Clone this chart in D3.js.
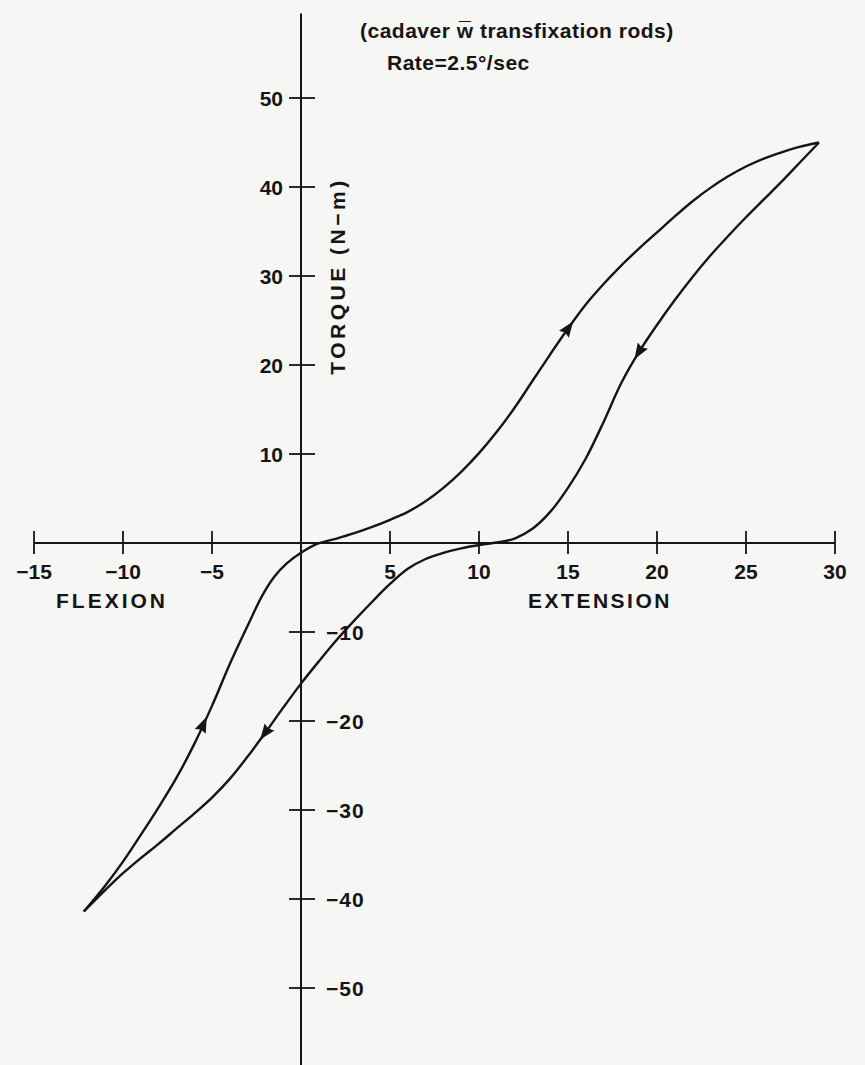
<!DOCTYPE html>
<html><head><meta charset="utf-8">
<script src="https://cdn.jsdelivr.net/npm/d3@7"></script>
<style>body{margin:0;background:#f6f6f4}svg{display:block}</style>
</head><body><svg id="c" width="865" height="1065"></svg>
<script>
// Data (angle in degrees, torque in N-m)
const loadingBranch = [
  [-12.2,-41.4],[-11,-38.5],[-10,-35.8],[-9,-32.8],[-8,-29.7],[-7,-26.4],[-6,-22.6],
  [-5,-18.3],[-4,-13.6],[-3,-9.3],[-2.2,-6.0],[-1.5,-3.8],[-0.8,-2.3],[0,-1.1],[0.9,-0.1],
  [2,0.5],[3,1.1],[4,1.8],[5,2.6],[6,3.5],[7,4.7],[8,6.2],[9,8.0],[10,10.1],[11,12.5],
  [12,15.2],[13,18.2],[14,21.2],[15,24.1],[16,26.8],[17,29.1],[18,31.2],[19,33.1],
  [20,34.9],[21,36.7],[22,38.4],[23,39.9],[24,41.2],[25,42.3],[26,43.2],[27,43.9],
  [28,44.5],[29.1,45.0]
];
const unloadingBranch = [
  [29.1,45.0],[28,42.7],[27,40.6],[26,38.6],[25,36.6],[24,34.5],[23,32.3],[22,29.9],
  [21,27.3],[20,24.5],[19,21.5],[18,18.0],[17,13.6],[16,9.5],[15,6.2],[14,3.5],[13,1.6],
  [12,0.5],[11,0.05],[10.1,-0.2],[9.0,-0.6],[8.0,-1.1],[7.0,-1.8],[6.0,-2.9],[5.0,-4.6],
  [4.0,-6.6],[3.0,-8.7],[2.0,-10.9],[1.0,-13.3],[0,-15.8],[-1.0,-18.5],[-2.0,-21.3],
  [-3.0,-24.0],[-4.0,-26.5],[-5.0,-28.6],[-6.0,-30.4],[-7.0,-32.1],[-8.0,-33.8],
  [-9.0,-35.4],[-10.0,-37.1],[-11.0,-39.0],[-12.2,-41.4]
];
const arrowsLoading = [[-5.5,-20.45],[15.0,24.1]];
const arrowsUnloading = [[19.0,21.5],[-2.0,-21.3]];
const xTickValues = [-15,-10,-5,5,10,15,20,25,30];
const yTickValues = [50,40,30,20,10,-10,-20,-30,-40,-50];
const xDomain = [-15,30];
const yAxisExtent = [59.5,-60];
const titleLines = ["(cadaver w\u0305 transfixation rods)", "Rate=2.5\u00b0/sec"];
const xLabelLeft = "FLEXION", xLabelRight = "EXTENSION", yLabel = "TORQUE (N\u2212m)";

const svg = d3.select("#c");
const FONT = "'Liberation Sans', Arial, sans-serif";
const INK = "#151515";
const x = d3.scaleLinear().domain(xDomain).range([34,835]);
const y = d3.scaleLinear().domain([-50,50]).range([988,98]);
const fmt = v => (v < 0 ? "\u2212" : "") + Math.abs(v);

const g = svg.append("g").attr("fill", INK).style("font-family", FONT).style("font-weight", "bold");

// axes lines
g.append("line").attr("x1", x(xDomain[0])).attr("x2", x(xDomain[1]))
  .attr("y1", y(0)).attr("y2", y(0)).attr("stroke", INK).attr("stroke-width", 2);
g.append("line").attr("x1", x(0)).attr("x2", x(0))
  .attr("y1", y(yAxisExtent[0])).attr("y2", y(yAxisExtent[1])).attr("stroke", INK).attr("stroke-width", 2);

// x ticks
g.selectAll(".xt").data(xTickValues).join("line")
  .attr("x1", d => x(d)).attr("x2", d => x(d))
  .attr("y1", y(0) - 12).attr("y2", y(0) + 11)
  .attr("stroke", INK).attr("stroke-width", 1.8);
g.selectAll(".xl").data(xTickValues).join("text")
  .attr("x", d => x(d)).attr("y", y(0) + 36)
  .attr("text-anchor", "middle").style("font-size", "21px")
  .text(fmt);

// y ticks
g.selectAll(".yt").data(yTickValues).join("line")
  .attr("x1", x(0) - 12).attr("x2", x(0) + 14)
  .attr("y1", d => y(d)).attr("y2", d => y(d))
  .attr("stroke", INK).attr("stroke-width", 1.8);
g.selectAll(".yl").data(yTickValues).join("text")
  .attr("x", d => d > 0 ? x(0) - 18 : x(0) + 25)
  .attr("y", d => y(d)).attr("dy", "0.36em")
  .attr("text-anchor", d => d > 0 ? "end" : "start")
  .style("font-size", "21px")
  .style("letter-spacing", d => d < 0 ? "1px" : "0px")
  .text(fmt);

// axis labels
g.append("text").attr("x", 112).attr("y", y(0) + 65).attr("text-anchor", "middle")
  .style("font-size", "21px").style("letter-spacing", "3px").text(xLabelLeft);
g.append("text").attr("x", 600).attr("y", y(0) + 65).attr("text-anchor", "middle")
  .style("font-size", "21px").style("letter-spacing", "2.5px").text(xLabelRight);
g.append("text").attr("transform", `translate(${x(0) + 44},${y(30)}) rotate(-90)`)
  .attr("text-anchor", "middle").style("font-size", "21px").style("letter-spacing", "3.5px")
  .text(yLabel);

// title
g.append("text").attr("x", 360).attr("y", 38).style("font-size", "21px")
  .style("letter-spacing", "0.5px").text(titleLines[0]);
g.append("text").attr("x", 387).attr("y", 70).style("font-size", "21px")
  .style("letter-spacing", "0.5px").text(titleLines[1]);

// curves
const line = d3.line().x(d => x(d[0])).y(d => y(d[1])).curve(d3.curveCatmullRom.alpha(0.5));
[loadingBranch, unloadingBranch].forEach(b => {
  svg.append("path").attr("d", line(b)).attr("fill", "none")
    .attr("stroke", INK).attr("stroke-width", 2.4).attr("stroke-linejoin", "miter");
});

// arrows
function drawArrows(points, branch) {
  points.forEach(p => {
    let idx = 0, best = Infinity;
    branch.forEach((q, i) => { const dd = (q[0]-p[0])**2 + (q[1]-p[1])**2; if (dd < best) { best = dd; idx = i; } });
    const a = branch[Math.max(0, idx - 1)], b = branch[Math.min(branch.length - 1, idx + 1)];
    const ang = Math.atan2(y(b[1]) - y(a[1]), x(b[0]) - x(a[0])) * 180 / Math.PI;
    svg.append("path").attr("d", "M9,0 L-7,-6 L-5,0 L-7,6 Z").attr("fill", INK)
      .attr("transform", `translate(${x(p[0])},${y(p[1])}) rotate(${ang})`);
  });
}
drawArrows(arrowsLoading, loadingBranch);
drawArrows(arrowsUnloading, unloadingBranch);
</script></body></html>
